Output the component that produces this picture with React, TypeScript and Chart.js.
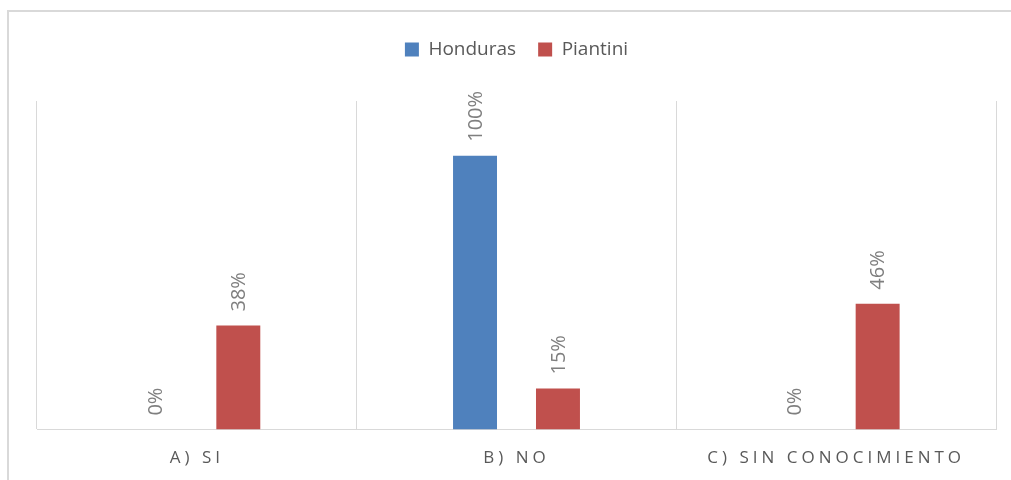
import React, { useEffect, useRef } from "react";
import { Chart, registerables } from "chart.js";

Chart.register(...registerables);

const categories = ["A) SI", "B) NO", "C) SIN CONOCIMIENTO"];
const hondurasValues = [0, 100, 0];
const piantiniValues = [38, 15, 46];
const seriesNames = ["Honduras", "Piantini"];
const seriesColors = ["#4f81bd", "#c0504d"];

const FONT = "'Open Sans', 'DejaVu Sans', sans-serif";

const legendSpacer = {
  id: "legendSpacer",
  beforeInit(chart: any) {
    const legend = chart.legend;
    if (!legend) return;
    const origFit = legend.fit;
    legend.fit = function () {
      origFit.call(this);
      this.height += 32;
    };
  },
};

const spacedLabels = {
  id: "spacedLabels",
  beforeDraw(chart: any) {
    const x = chart.scales.x;
    if (!x || x.__patched) return;
    const orig = x.drawLabels;
    x.drawLabels = function (area: any) {
      const ctx = this.ctx;
      ctx.save();
      (ctx as any).letterSpacing = "4px";
      orig.call(this, area);
      ctx.restore();
    };
    x.__patched = true;
  },
};

const valueLabels = {
  id: "valueLabels",
  afterDatasetsDraw(chart: any) {
    const ctx = chart.ctx;
    chart.data.datasets.forEach((ds: any, di: number) => {
      const meta = chart.getDatasetMeta(di);
      meta.data.forEach((el: any, i: number) => {
        const v = ds.data[i];
        ctx.save();
        ctx.translate(el.x, el.y);
        ctx.rotate(-Math.PI / 2);
        ctx.font = `20px ${FONT}`;
        ctx.fillStyle = "#7f7f7f";
        ctx.textAlign = "left";
        ctx.textBaseline = "middle";
        ctx.fillText(`${v}%`, 14, 1);
        ctx.restore();
      });
    });
  },
};

export default function App() {
  const ref = useRef<HTMLCanvasElement>(null);
  useEffect(() => {
    if (!ref.current) return;
    const chart = new Chart(ref.current, {
      type: "bar",
      data: {
        labels: categories,
        datasets: [
          {
            label: seriesNames[0],
            data: hondurasValues,
            backgroundColor: seriesColors[0],
            categoryPercentage: 0.519,
            barPercentage: 0.53,
          },
          {
            label: seriesNames[1],
            data: piantiniValues,
            backgroundColor: seriesColors[1],
            categoryPercentage: 0.519,
            barPercentage: 0.53,
          },
        ],
      },
      options: {
        animation: false,
        responsive: false,
        maintainAspectRatio: false,
        layout: { padding: { left: 28, right: 23, top: 6, bottom: 6 } },
        plugins: {
          legend: {
            position: "top",
            labels: {
              boxWidth: 14,
              boxHeight: 14,
              padding: 22,
              color: "#595959",
              font: { family: FONT, size: 19 },
            },
          },
          tooltip: { enabled: false },
        },
        scales: {
          x: {
            grid: {
              color: "#d9d9d9",
              lineWidth: 1,
              drawTicks: false,
              offset: true,
            },
            border: { color: "#d9d9d9", width: 1 },
            ticks: {
              color: "#595959",
              padding: 18,
              font: { family: FONT, size: 17 },
              maxRotation: 0,
            },
          },
          y: {
            display: false,
            min: 0,
            max: 120,
          },
        },
      },
      plugins: [legendSpacer, spacedLabels, valueLabels],
    });
    return () => chart.destroy();
  }, []);

  return (
    <div
      style={{
        position: "fixed",
        left: 7,
        top: 10,
        width: 1020,
        height: 480,
        borderTop: "2px solid #d9d9d9",
        borderLeft: "2px solid #d9d9d9",
        background: "#fff",
        overflow: "hidden",
      }}
    >
      <canvas ref={ref} width={1010} height={480} style={{ display: "block" }} />
    </div>
  );
}
